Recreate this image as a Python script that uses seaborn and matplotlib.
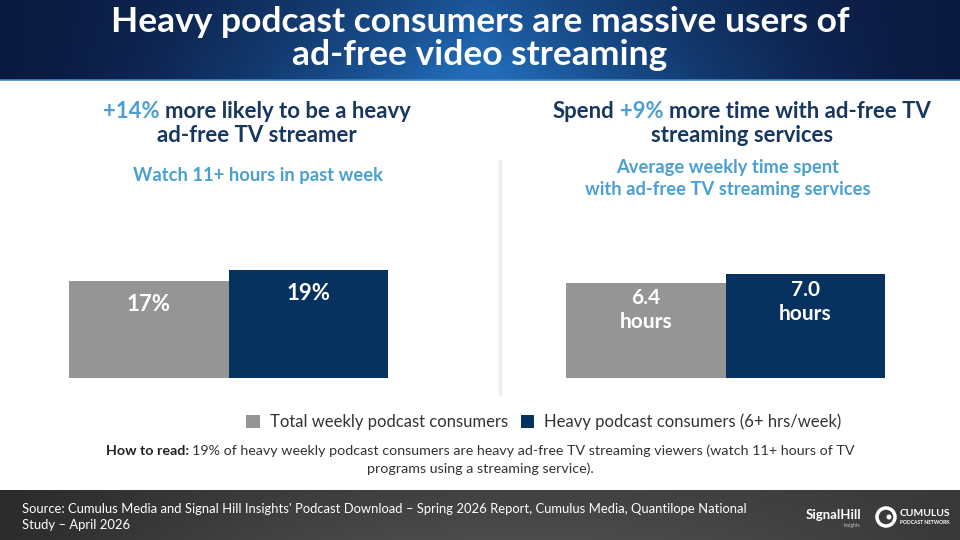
import numpy as np
import seaborn as sns
import matplotlib.pyplot as plt
from matplotlib.patches import Patch, Circle

# data
groups = ["Total weekly podcast consumers", "Heavy podcast consumers (6+ hrs/week)"]
heavy_streamer_pct = [17, 19]
weekly_hours = [6.4, 7.0]
pct_labels = ["17%", "19%"]
hour_labels = ["6.4\nhours", "7.0\nhours"]
bar_colors = ["#959595", "#07325f"]

NAVY = "#17375e"
LIGHT = "#4a9fd3"

sns.set_theme(style="white")
plt.rcParams["font.family"] = ["Lato", "DejaVu Sans"]

fig = plt.figure(figsize=(9.6, 5.4), dpi=100)
bg = fig.add_axes([0, 0, 1, 1])
bg.set_xlim(0, 960)
bg.set_ylim(540, 0)
bg.axis("off")

# header gradient
xs = np.linspace(-1, 1, 400)
ys = np.linspace(0, 1, 40)[:, None]
t = (1 - np.abs(xs)) ** 1.6
t = np.clip(t[None, :] * (0.75 + 0.35 * ys), 0, 1)
edge = np.array([0.04, 0.10, 0.25])
mid = np.array([0.13, 0.42, 0.72])
grad = edge + (mid - edge) * t[..., None]
bg.imshow(grad, extent=[0, 960, 80, 0], aspect="auto", zorder=0)
bg.axhline(80, color="#3f86c8", lw=1.2, zorder=1)

# footer gradient
fx = np.linspace(0, 1, 300)
fy = np.linspace(0, 1, 20)[:, None]
fg = 0.17 + 0.10 * np.sin(fx * np.pi)[None, :] * (0.6 + 0.4 * fy) + 0.05 * fx[None, :]
bg.imshow(np.dstack([fg, fg, fg]), extent=[0, 960, 540, 490], aspect="auto", zorder=0)

bg.text(480, 22, "Heavy podcast consumers are massive users of", color="white",
        fontsize=25.5, fontweight="bold", ha="center", va="center")
bg.text(480, 55, "ad-free video streaming", color="white",
        fontsize=25.5, fontweight="bold", ha="center", va="center")

renderer = fig.canvas.get_renderer()


def mixed_line(x, y, parts, size, ha="center"):
    probe = bg.text(0, 0, "x x", fontsize=size, fontweight=parts[0][2])
    probe2 = bg.text(0, 0, "xx", fontsize=size, fontweight=parts[0][2])
    gap = probe.get_window_extent(renderer).width - probe2.get_window_extent(renderer).width
    probe.remove()
    probe2.remove()
    texts = []
    for s, color, weight in parts:
        texts.append(bg.text(0, y, s, color=color, fontsize=size,
                             fontweight=weight, va="center", ha="left"))
    widths = [tx.get_window_extent(renderer).width for tx in texts]
    total = sum(widths) + gap * (len(texts) - 1)
    start = x - total / 2 if ha == "center" else x
    for tx, w in zip(texts, widths):
        tx.set_x(start)
        start += w + gap


# left headline
mixed_line(257, 112, [("+14%", LIGHT, "bold"), ("more likely to be a heavy", NAVY, "bold")], 15.9)
bg.text(257, 136, "ad-free TV streamer", color=NAVY, fontsize=15.9, fontweight="bold",
        ha="center", va="center")
bg.text(258, 176, "Watch 11+ hours in past week", color=LIGHT, fontsize=13.2,
        fontweight="bold", ha="center", va="center")

# right headline
mixed_line(742, 112, [("Spend", NAVY, "bold"), ("+9%", LIGHT, "bold"),
                      ("more time with ad-free TV", NAVY, "bold")], 15.9)
bg.text(742, 136, "streaming services", color=NAVY, fontsize=15.9, fontweight="bold",
        ha="center", va="center")
bg.text(728, 168, "Average weekly time spent", color=LIGHT, fontsize=13.2,
        fontweight="bold", ha="center", va="center")
bg.text(728, 189, "with ad-free TV streaming services", color=LIGHT, fontsize=13.2,
        fontweight="bold", ha="center", va="center")

# divider shadow
for k, a in enumerate([0.04, 0.09, 0.18, 0.09, 0.04]):
    bg.plot([498 + k, 498 + k], [160, 395], color="#9a9a9a", alpha=a, lw=1, zorder=1)


def bar_panel(left_px, right_px, values, labels, top_value, pad, size):
    ax = fig.add_axes([left_px / 960, (540 - 378) / 540,
                       (right_px - left_px) / 960, (378 - 200) / 540])
    sns.barplot(x=groups, y=values, hue=groups, palette=bar_colors, width=1,
                saturation=1, legend=False, linewidth=0, edgecolor="none", ax=ax)
    ax.set_xlim(-0.5, 1.5)
    ax.set_ylim(0, top_value)
    ax.axis("off")
    for i, (v, lab) in enumerate(zip(values, labels)):
        ax.annotate(lab, (i, v), xytext=(0, pad), textcoords="offset points",
                    ha="center", va="top", color="white", fontsize=size,
                    fontweight="bold", linespacing=1.25)
    return ax


bar_panel(69, 388, heavy_streamer_pct, pct_labels, 19 * 178 / 108, -9, 16)
bar_panel(566, 885, weekly_hours, hour_labels, 7.0 * 178 / 104, -4, 15)

# legend
handles = [Patch(facecolor=c, edgecolor="none") for c in bar_colors]
fig.legend(handles, groups, loc="center", bbox_to_anchor=(544 / 960, 1 - 422 / 540),
           ncol=2, frameon=False, fontsize=12, handlelength=0.8, handleheight=0.8,
           handletextpad=0.6, columnspacing=0.8, labelcolor="#333333")

# how to read
mixed_line(480, 451, [("How to read:", "#222222", "bold"),
                      ("19% of heavy weekly podcast consumers are heavy ad-free TV streaming "
                       "viewers (watch 11+ hours of TV", "#333333", "normal")], 10.3)
bg.text(480, 469, "programs using a streaming service).", color="#333333", fontsize=10.3,
        ha="center", va="center")

# footer
bg.text(22, 509, "Source: Cumulus Media and Signal Hill Insights' Podcast Download \u2013 Spring 2026 "
        "Report, Cumulus Media, Quantilope National", color="white", fontsize=9.35, va="center")
bg.text(22, 525, "Study \u2013 April 2026", color="white", fontsize=9.35, va="center")

bg.text(833, 515, "SignalHill", color="white", fontsize=9.5, fontweight="bold",
        ha="center", va="center")
bg.text(852, 526, "Insights", color="#cccccc", fontsize=3.5, ha="center", va="center")
bg.add_patch(Circle((886, 517), 9, facecolor="none", edgecolor="white", lw=2.5))
bg.add_patch(Circle((889, 517), 2.5, facecolor="white", edgecolor="none"))
bg.text(900, 513, "CUMULUS", color="white", fontsize=7.5, fontweight="bold", va="center")
bg.text(900, 522, "PODCAST NETWORK", color="white", fontsize=3.6, fontweight="bold", va="center")

fig.savefig("out.png", dpi=100)
